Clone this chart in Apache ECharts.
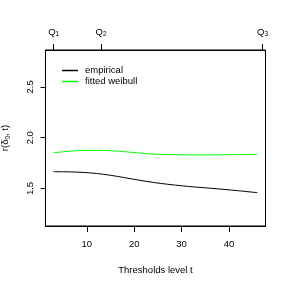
<!DOCTYPE html>
<html><head><meta charset="utf-8">
<script src="https://cdn.jsdelivr.net/npm/echarts@6/dist/echarts.min.js"></script>
<style>html,body{margin:0;padding:0;background:#fff}#c{width:289px;height:289px}</style>
</head><body><div id="c"></div>
<script>
const thresholds = [3, 6, 9, 12, 15, 18, 21, 24, 27, 30, 33, 36, 39, 42, 46];
const empirical = [1.665, 1.664, 1.659, 1.648, 1.630, 1.607, 1.582, 1.560, 1.542, 1.527, 1.514, 1.503, 1.491, 1.478, 1.459];
const fittedWeibull = [1.852, 1.866, 1.874, 1.876, 1.872, 1.862, 1.849, 1.839, 1.834, 1.832, 1.831, 1.831, 1.832, 1.834, 1.837];
const xTicks = [10, 20, 30, 40];
const yTicks = [1.5, 2.0, 2.5];
const qPositions = [3, 13, 47.1];
const qLabels = ['1', '2', '3'];

const FONT = 'Liberation Sans, Arial, sans-serif';
const FS = 9.5;
const chart = echarts.init(document.getElementById('c'), null, {renderer: 'canvas'});
chart.setOption({
  animation: false,
  backgroundColor: '#fff',
  textStyle: {fontFamily: FONT},
  grid: {left: 45.5, right: 23.5, top: 50, bottom: 63, show: true, borderColor: '#000', borderWidth: 1, containLabel: false, outerBoundsMode: 'none'},
  legend: {
    left: 57, top: 60, orient: 'vertical', itemWidth: 16, itemHeight: 1.5, itemGap: 0, icon: 'rect',
    textStyle: {fontFamily: FONT, fontSize: FS, color: '#000', padding: [0, 0, 0, 2], lineHeight: 11},
    data: ['empirical', 'fitted weibull']
  },
  xAxis: [{
    type: 'value', min: 1.28, max: 47.72, position: 'bottom',
    name: 'Thresholds level t', nameLocation: 'middle', nameGap: 39,
    nameTextStyle: {fontFamily: FONT, fontSize: FS, color: '#000'},
    axisLine: {show: true, lineStyle: {color: '#000'}},
    axisTick: {show: true, length: 6, customValues: xTicks, lineStyle: {color: '#000'}},
    axisLabel: {show: true, customValues: xTicks, margin: 13, fontFamily: FONT, fontSize: FS, color: '#000'},
    splitLine: {show: false}
  }, {
    type: 'value', min: 1.28, max: 47.72, position: 'top',
    axisLine: {show: true, lineStyle: {color: '#000'}},
    axisTick: {show: true, length: 6, customValues: qPositions, lineStyle: {color: '#000'}},
    axisLabel: {show: true, customValues: qPositions, margin: 12, fontFamily: FONT, fontSize: FS, color: '#000',
      formatter: function (v) { const i = qPositions.indexOf(v); return '{q|Q}{s|' + qLabels[i] + '}'; },
      rich: {q: {fontFamily: FONT, fontSize: FS, color: '#000'}, s: {fontFamily: FONT, fontSize: 6.5, color: '#000', padding: [5, 0, 0, 0]}}
    },
    splitLine: {show: false}
  }],
  yAxis: {
    type: 'value', min: 1.131, max: 2.863,
    name: '{a|r(δ}{s|0}{a|, t)}', nameLocation: 'middle', nameGap: 34, nameRotate: 90,
    nameTextStyle: {fontFamily: FONT, fontSize: FS, color: '#000',
      rich: {a: {fontFamily: FONT, fontSize: FS, color: '#000'}, s: {fontFamily: FONT, fontSize: 6.5, color: '#000', padding: [5, 0, 0, 0]}}},
    axisLine: {show: true, lineStyle: {color: '#000'}},
    axisTick: {show: true, length: 5, customValues: yTicks, lineStyle: {color: '#000'}},
    axisLabel: {show: true, customValues: yTicks, rotate: 90, margin: 10, fontFamily: FONT, fontSize: FS, color: '#000',
      formatter: function (v) { return v.toFixed(1); }},
    splitLine: {show: false}
  },
  series: [{
    name: 'empirical', type: 'line', smooth: 0.3, symbol: 'none',
    data: thresholds.map((t, i) => [t, empirical[i]]),
    lineStyle: {color: '#000', width: 1}, itemStyle: {color: '#000'}
  }, {
    name: 'fitted weibull', type: 'line', smooth: 0.3, symbol: 'none',
    data: thresholds.map((t, i) => [t, fittedWeibull[i]]),
    lineStyle: {color: '#00ff00', width: 1}, itemStyle: {color: '#00ff00'}
  }]
});
</script></body></html>
